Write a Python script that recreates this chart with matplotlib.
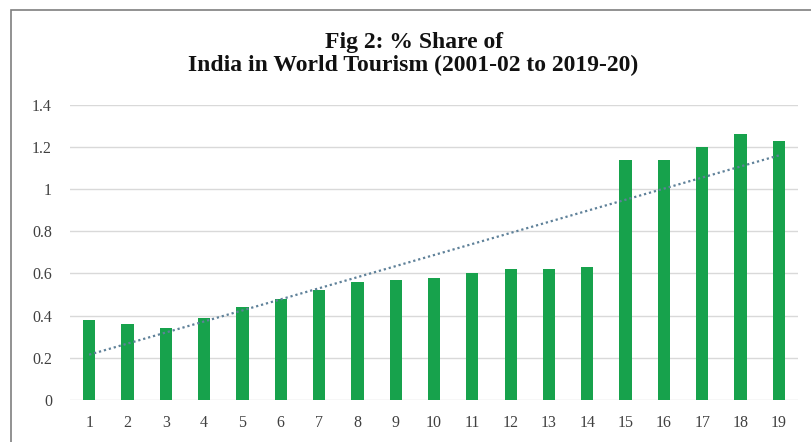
import matplotlib.pyplot as plt
import numpy as np
from matplotlib.patches import Rectangle

# % share of India in world tourism, 2001-02 .. 2019-20
years = list(range(1, 20))
share = [0.38, 0.36, 0.34, 0.39, 0.44, 0.48, 0.52, 0.56, 0.57, 0.58,
         0.60, 0.62, 0.62, 0.63, 1.14, 1.14, 1.20, 1.26, 1.23]
yticks = [0, 0.2, 0.4, 0.6, 0.8, 1, 1.2, 1.4]
ytick_labels = ["0", "0.2", "0.4", "0.6", "0.8", "1", "1.2", "1.4"]

plt.rcParams['font.family'] = ['Liberation Serif', 'DejaVu Serif']

figure = plt.figure(figsize=(8.11, 4.42), dpi=100)
axis = figure.add_axes([0.0863, 0.095, 0.8977, 0.668])

axis.bar(years, share, width=0.32, color="#17a24c", zorder=2)

# linear trend line like the spreadsheet one
coef = np.polyfit(years, share, 1)
trend = np.polyval(coef, years)
axis.plot(years, trend, color="#5f8199", linestyle=(0, (1, 1.3)), linewidth=1.6, zorder=3)

axis.set_xlim(0.5, 19.5)
axis.set_ylim(0, 1.4)
axis.set_xticks(years)
axis.set_xticklabels([str(y) for y in years])
axis.set_yticks(yticks)
axis.set_yticklabels(ytick_labels)
axis.tick_params(axis='both', length=0, labelsize=11.5, colors="#404040")
axis.tick_params(axis='x', pad=11)
axis.tick_params(axis='y', pad=13)
axis.yaxis.grid(True, color="#d9d9d9", linewidth=1.0, zorder=0)
axis.set_axisbelow(True)
for s in axis.spines.values():
    s.set_visible(False)

figure.text(0.51, 0.878, "Fig 2: % Share of\nIndia in World Tourism (2001-02 to 2019-20)",
            ha="center", va="center", fontsize=17, fontweight="bold",
            linespacing=1.1, color="#111111")

# outer chart frame
figure.patches.append(Rectangle((11 / 811, -0.05), 1.2, 1 - 9.5 / 442 + 0.05,
                                transform=figure.transFigure, fill=False,
                                edgecolor="#7f7f7f", linewidth=1.2))

figure.savefig("out.png", dpi=100)
